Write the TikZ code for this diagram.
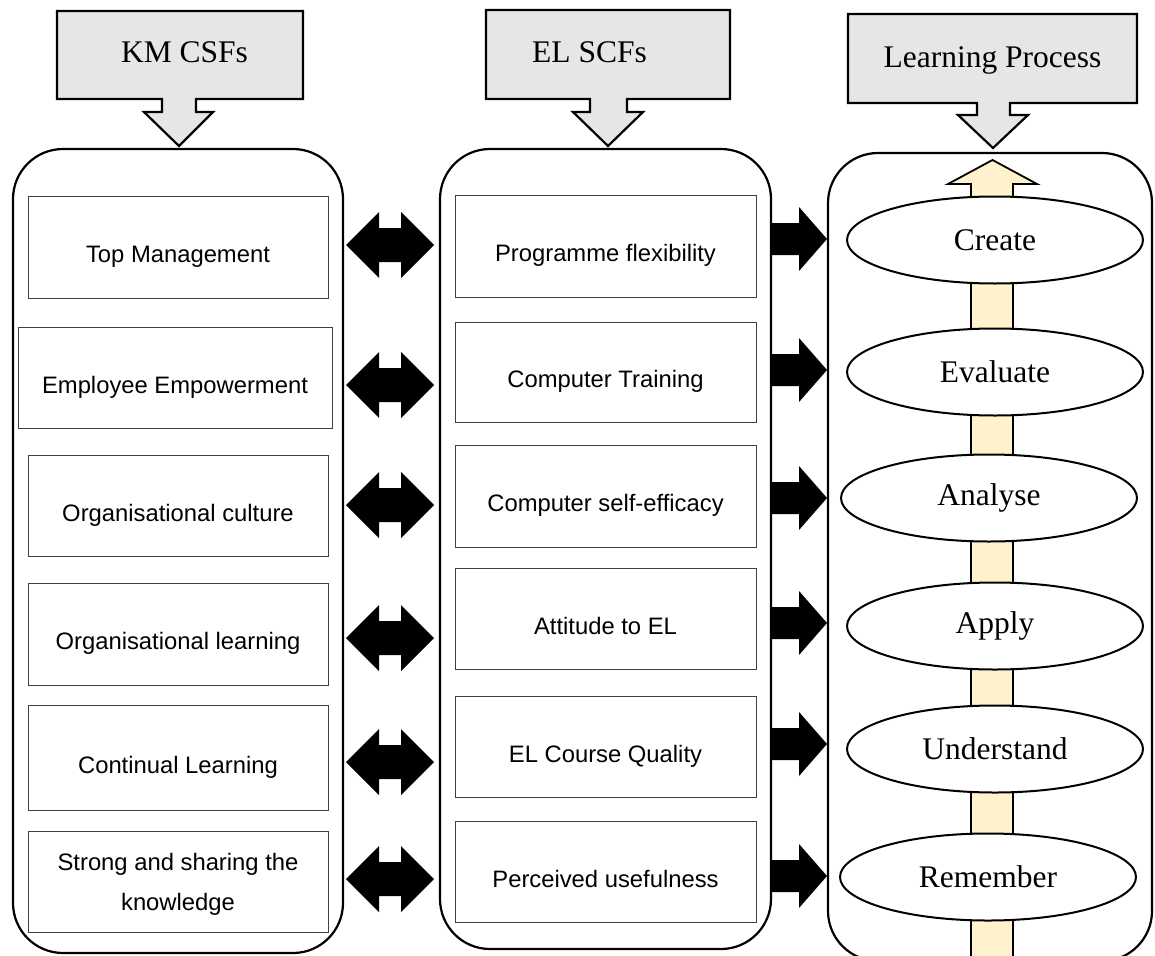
\documentclass[tikz,border=0pt]{standalone}
\usepackage{fontspec}
\setmainfont{Liberation Serif}
\newfontfamily\boxfont{Liberation Sans}
\usetikzlibrary{shapes.geometric}
\definecolor{calloutgray}{HTML}{E6E6E6}
\definecolor{barcream}{HTML}{FFF2CC}

\begin{document}
\begin{tikzpicture}[x=1pt,y=-1pt,
  container/.style={draw, line width=2.2pt, rounded corners=50pt, inner sep=0pt},
  factorbox/.style={draw=black!75, line width=1pt, inner sep=0pt, minimum height=102pt,
    minimum width=300pt, font=\boxfont\fontsize{23.8}{40}\selectfont, align=center},
  factor/.style={factorbox, text height=31pt, text depth=0pt},
  stage/.style={ellipse, draw, line width=2pt, fill=white, minimum width=296pt,
    minimum height=87pt, inner sep=0pt, font=\fontsize{31.5}{36}\selectfont},
  callout/.style={draw, line width=2.2pt, fill=calloutgray, line join=miter},
  title/.style={font=\fontsize{31.5}{36}\selectfont, inner sep=0pt, anchor=base},
  dblarrow/.pic={\fill (-44,0) -- (-11,-33) -- (-11,-17) -- (11,-17) -- (11,-33)
    -- (44,0) -- (11,33) -- (11,17) -- (-11,17) -- (-11,33) -- cycle;},
  rarrow/.pic={\fill (-27.5,-16) -- (-0.5,-16) -- (-0.5,-32) -- (27.5,0)
    -- (-0.5,32) -- (-0.5,16) -- (-27.5,16) -- cycle;}
]
\useasboundingbox (0,0) rectangle (1155,955);
\clip (0,0) rectangle (1155,955);

% column frames
\node[container, minimum width=330pt, minimum height=804pt] (kmcol) at (178,551) {};
\node[container, minimum width=331pt, minimum height=800pt] (elcol) at (605.5,549) {};
\node[container, minimum width=324pt, minimum height=808pt] (lpcol) at (990,557) {};

% heading callouts
\path[callout] (57,11) -- (303,11) -- (303,99) -- (196,99) -- (196,112) -- (213,112)
  -- (179,146) -- (144,112) -- (162,112) -- (162,99) -- (57,99) -- cycle;
\node[title] (kmtitle) at (184.5,63) {KM CSFs};

\path[callout] (486,10) -- (730,10) -- (730,99) -- (627,99) -- (627,112) -- (643,112)
  -- (608,146) -- (573,112) -- (590,112) -- (590,99) -- (486,99) -- cycle;
\node[title] (eltitle) at (589.5,63) {EL SCFs};

\path[callout] (848,14) -- (1137,14) -- (1137,103) -- (1010,103) -- (1010,115) -- (1028,115)
  -- (993,148) -- (958,115) -- (977,115) -- (977,103) -- (848,103) -- cycle;
\node[title] (lptitle) at (992.5,68) {Learning Process};

% KM critical success factors
\node[factor] (km1) at (178,247) {Top Management};
\node[factor, minimum width=314pt, minimum height=101pt] (km2) at (175,377.5) {Employee Empowerment};
\node[factor, minimum height=101pt] (km3) at (178,505.5) {Organisational culture};
\node[factor] (km4) at (178,634) {Organisational learning};
\node[factor, minimum height=105pt] (km5) at (178,757.5) {Continual Learning};
\node[factorbox, minimum height=101pt] (km6) at (178,881.5) {};
\node[font=\boxfont\fontsize{23.8}{40}\selectfont, align=center, inner sep=0pt]
  (km6text) at ([yshift=-3pt]km6.center) {Strong and sharing the\\knowledge};

% EL success factors
\node[factor, minimum width=301pt] (el1) at (605.5,246) {Programme flexibility};
\node[factor, minimum width=301pt, minimum height=100pt] (el2) at (605.5,372) {Computer Training};
\node[factor, minimum width=301pt] (el3) at (605.5,496) {Computer self-efficacy};
\node[factor, minimum width=301pt, minimum height=101pt] (el4) at (605.5,618.5) {Attitude to EL};
\node[factor, minimum width=301pt, minimum height=101pt] (el5) at (605.5,746.5) {EL Course Quality};
\node[factor, minimum width=301pt, minimum height=101pt] (el6) at (605.5,871.5) {Perceived usefulness};

% links between the columns
\foreach \y in {245,385,505,638,762,879} \pic at (390,\y) {dblarrow};
\foreach \y in {239,370,498,623,744,876} \pic at (799.5,\y) {rarrow};

% upward progression through the learning stages
\path[fill=barcream, draw, line width=1.8pt, line join=miter] (971,975) -- (971,184)
  -- (948,184) -- (992.5,160) -- (1037,184) -- (1013,184) -- (1013,975) -- cycle;

\node[stage] (create) at (995,240) {Create};
\node[stage] (evaluate) at (995,372) {Evaluate};
\node[stage] (analyse) at (989,498) {Analyse};
\node[stage] (apply) at (995,626) {Apply};
\node[stage] (understand) at (995,749) {Understand};
\node[stage] (remember) at (988,877) {Remember};
\end{tikzpicture}
\end{document}
